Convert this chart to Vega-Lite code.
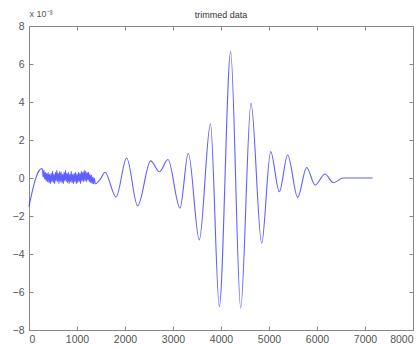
{
  "$schema": "https://vega.github.io/schema/vega-lite/v6.json",
  "width": 384,
  "height": 304,
  "autosize": {"type": "none"},
  "padding": {"left": 29, "top": 26, "right": 3, "bottom": 19},
  "background": "white",
  "title": {"text": "trimmed data", "fontSize": 9, "font": "Liberation Sans", "fontWeight": "normal", "color": "#333", "offset": 8, "dy": 19},
  "data": {"values": [
    {"t": 0, "v": -1.5}, {"t": 60, "v": -0.8}, {"t": 130, "v": -0.1}, {"t": 200, "v": 0.35}, {"t": 264, "v": 0.5},
    {"t": 280, "v": 0.45}, {"t": 295, "v": 0.05}, {"t": 310, "v": 0.4}, {"t": 325, "v": -0.05}, {"t": 340, "v": 0.3},
    {"t": 355, "v": -0.15}, {"t": 370, "v": 0.25}, {"t": 385, "v": -0.2}, {"t": 400, "v": 0.3}, {"t": 415, "v": -0.25},
    {"t": 430, "v": 0.2}, {"t": 445, "v": -0.3}, {"t": 460, "v": 0.25}, {"t": 475, "v": -0.2}, {"t": 490, "v": 0.35},
    {"t": 505, "v": -0.25}, {"t": 520, "v": 0.2}, {"t": 535, "v": -0.3}, {"t": 550, "v": 0.3}, {"t": 565, "v": -0.15},
    {"t": 580, "v": 0.4}, {"t": 595, "v": -0.2}, {"t": 610, "v": 0.25}, {"t": 625, "v": -0.3}, {"t": 640, "v": 0.35},
    {"t": 655, "v": -0.2}, {"t": 670, "v": 0.3}, {"t": 685, "v": -0.25}, {"t": 700, "v": 0.2}, {"t": 715, "v": -0.3},
    {"t": 730, "v": 0.3}, {"t": 745, "v": -0.15}, {"t": 760, "v": 0.4}, {"t": 775, "v": -0.2}, {"t": 790, "v": 0.25},
    {"t": 805, "v": -0.25}, {"t": 820, "v": 0.3}, {"t": 835, "v": -0.3}, {"t": 850, "v": 0.2}, {"t": 865, "v": -0.2},
    {"t": 880, "v": 0.35}, {"t": 895, "v": -0.25}, {"t": 910, "v": 0.2}, {"t": 925, "v": -0.3}, {"t": 940, "v": 0.25},
    {"t": 955, "v": -0.2}, {"t": 970, "v": 0.3}, {"t": 985, "v": -0.3}, {"t": 1000, "v": 0.2}, {"t": 1015, "v": -0.25},
    {"t": 1030, "v": 0.3}, {"t": 1045, "v": -0.2}, {"t": 1060, "v": 0.25}, {"t": 1075, "v": -0.3}, {"t": 1090, "v": 0.35},
    {"t": 1105, "v": -0.15}, {"t": 1120, "v": 0.3}, {"t": 1135, "v": -0.2}, {"t": 1150, "v": 0.4}, {"t": 1165, "v": -0.15},
    {"t": 1180, "v": 0.35}, {"t": 1195, "v": -0.2}, {"t": 1210, "v": 0.3}, {"t": 1225, "v": -0.1}, {"t": 1240, "v": 0.3},
    {"t": 1255, "v": -0.2}, {"t": 1270, "v": 0.2}, {"t": 1285, "v": -0.25}, {"t": 1300, "v": 0.15}, {"t": 1315, "v": -0.3},
    {"t": 1330, "v": 0.05}, {"t": 1345, "v": -0.3}, {"t": 1360, "v": 0.0}, {"t": 1380, "v": -0.3}, {"t": 1410, "v": -0.27},
    {"t": 1490, "v": -0.05}, {"t": 1583, "v": 0.3}, {"t": 1813, "v": -1.0}, {"t": 2035, "v": 1.05}, {"t": 2264, "v": -1.47},
    {"t": 2535, "v": 0.9}, {"t": 2715, "v": 0.33}, {"t": 2895, "v": 0.97}, {"t": 3146, "v": -1.58}, {"t": 3319, "v": 1.3},
    {"t": 3548, "v": -3.26}, {"t": 3780, "v": 2.85}, {"t": 3965, "v": -6.77}, {"t": 4201, "v": 6.65}, {"t": 4410, "v": -6.84},
    {"t": 4625, "v": 3.93}, {"t": 4847, "v": -3.43}, {"t": 5035, "v": 1.39}, {"t": 5215, "v": -0.72}, {"t": 5389, "v": 1.21},
    {"t": 5597, "v": -1.02}, {"t": 5785, "v": 0.55}, {"t": 5960, "v": -0.37}, {"t": 6167, "v": 0.21}, {"t": 6340, "v": -0.25},
    {"t": 6548, "v": 0.0}, {"t": 7160, "v": 0.0}
  ]},
  "layer": [
    {
      "mark": {"type": "line", "color": "#2a2aff", "strokeWidth": 1.1, "opacity": 0.75, "interpolate": "monotone"},
      "encoding": {
        "x": {"field": "t", "type": "quantitative", "scale": {"domain": [0, 8000], "nice": false, "zero": false},
              "axis": {"orient": "bottom", "values": [0,1000,2000,3000,4000,5000,6000,7000,8000], "format": "d", "title": null, "grid": false}},
        "y": {"field": "v", "type": "quantitative", "scale": {"domain": [-8, 8], "nice": false, "zero": false},
              "axis": {"orient": "left", "values": [-8,-6,-4,-2,0,2,4,6,8], "format": "d", "grid": false,
                       "title": "x 10⁻³", "titleAngle": 0, "titleAlign": "left", "titleX": 0, "titleY": -8,
                       "titleFontSize": 9, "titleFontWeight": "normal", "titleColor": "#555"}}
      }
    },
    {
      "mark": {"type": "line", "opacity": 0},
      "encoding": {
        "x": {"field": "t", "type": "quantitative",
              "axis": {"orient": "top", "values": [0,1000,2000,3000,4000,5000,6000,7000,8000], "labels": false, "title": null, "grid": false}},
        "y": {"field": "v", "type": "quantitative",
              "axis": {"orient": "right", "values": [-8,-6,-4,-2,0,2,4,6,8], "labels": false, "title": null, "grid": false}}
      }
    }
  ],
  "resolve": {"axis": {"x": "independent", "y": "independent"}},
  "config": {
    "view": {"stroke": "#888", "strokeWidth": 1},
    "axis": {"domainColor": "#888", "tickColor": "#888", "tickSize": -4, "labelPadding": 8,
             "labelColor": "#555", "labelFont": "Liberation Sans", "labelFontSize": 10.5, "titleFont": "Liberation Sans"},
    "axisLeft": {"labelPadding": 9},
    "axisBottom": {"labelPadding": 8}
  }
}
